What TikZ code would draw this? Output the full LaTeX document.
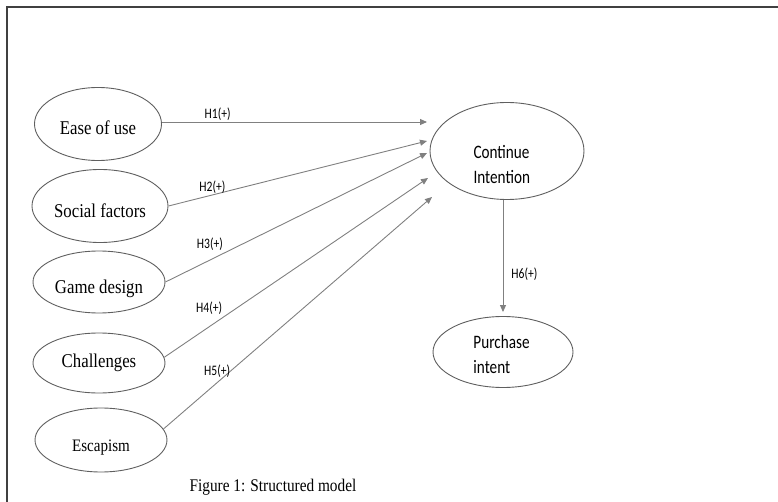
\documentclass[tikz,border=0pt]{standalone}
\usepackage{fontspec}
\setmainfont{Liberation Serif}
\newfontfamily\narrowserif[FakeStretch=0.86]{Liberation Serif}
\newfontfamily\calibri[FakeStretch=0.8]{Carlito}
\usepackage{xcolor}
\definecolor{linegray}{RGB}{128,128,128}
\definecolor{rimgray}{RGB}{95,95,95}
\usepackage{tikz}
\usetikzlibrary{shapes.geometric, arrows.meta}
\tikzstyle{factor} = [
    ellipse, draw=rimgray,
    line width=0.9pt,
    inner sep=0pt,
    text height=25pt, text depth=4pt,
    font=\narrowserif\fontsize{19.5}{22}\selectfont,
]
\tikzstyle{outcome} = [
    ellipse, draw=rimgray,
    line width=0.9pt,
    inner sep=0pt,
    align=left,
    font=\calibri\fontsize{19}{25}\selectfont,
]
\tikzstyle{hyp} = [
    inner sep=1pt,
    font=\calibri\fontsize{14.5}{16}\selectfont,
]
\tikzstyle{arrow} = [-{Triangle[length=7pt,width=6pt]}, draw=linegray, line width=0.9pt]

\begin{document}
\begin{tikzpicture}[x=1pt, y=-1pt]
    \useasboundingbox (0,0) rectangle (778,502);
    % frame
    \draw [line width=1.2pt, black!75] (7,502) -- (7,7) -- (778,7);

    % ellipses
    \node (ease) at (98,124) [factor, minimum width=127pt, minimum height=73pt] {Ease of use};
    \node (social) at (100,206) [factor, minimum width=136pt, minimum height=73pt, text height=27pt] {Social factors};
    \node (game) at (99,282) [factor, minimum width=132pt, minimum height=62pt, text height=27pt] {Game design};
    \node (chall) at (99,363) [factor, minimum width=132pt, minimum height=60pt, text height=12pt] {Challenges};
    \node (esc) at (101,440) [factor, minimum width=132pt, minimum height=64pt, text height=26pt,
        font=\narrowserif\fontsize{17.5}{20}\selectfont] {Escapism};
    \node (cont) at (507,151) [outcome, minimum width=154pt, minimum height=97pt] {\rule{0pt}{41pt}Continue\hspace*{11pt}\\Intention};
    \node (purch) at (503,352) [outcome, minimum width=140pt, minimum height=71pt] {\rule{0pt}{19pt}Purchase\hspace*{3pt}\\intent};

    % arrow ends
    \coordinate (t1) at (427,122);
    \coordinate (t2) at (427,141);
    \coordinate (t3) at (427,153);
    \coordinate (t4) at (428,178);
    \coordinate (t5) at (432,197);

    % arrows
    \draw [arrow] (ease.east |- t1) -- (t1) node [hyp, pos=0.21, above] {H1(+)};
    \draw [arrow] (social.east) -- (t2) node [hyp, pos=0.17, above] {H2(+)};
    \draw [arrow] (game.east) -- (t3) node [hyp, pos=0.17, above=8pt] {H3(+)};
    \draw [arrow] (chall.5) -- (t4) node [hyp, pos=0.17, above=11pt] {H4(+)};
    \draw [arrow] (esc.10) -- (t5) node [hyp, pos=0.2, above=4pt] {H5(+)};
    \draw [arrow, shorten >=4pt] (cont.south -| purch.north) -- (purch.north)
        node [hyp, pos=0.64, right=7pt] {H6(+)};

    % caption
    \node (caption) at (273,487) [font=\narrowserif\fontsize{17.8}{20}\selectfont] {Figure 1: Structured model};
\end{tikzpicture}
\end{document}
